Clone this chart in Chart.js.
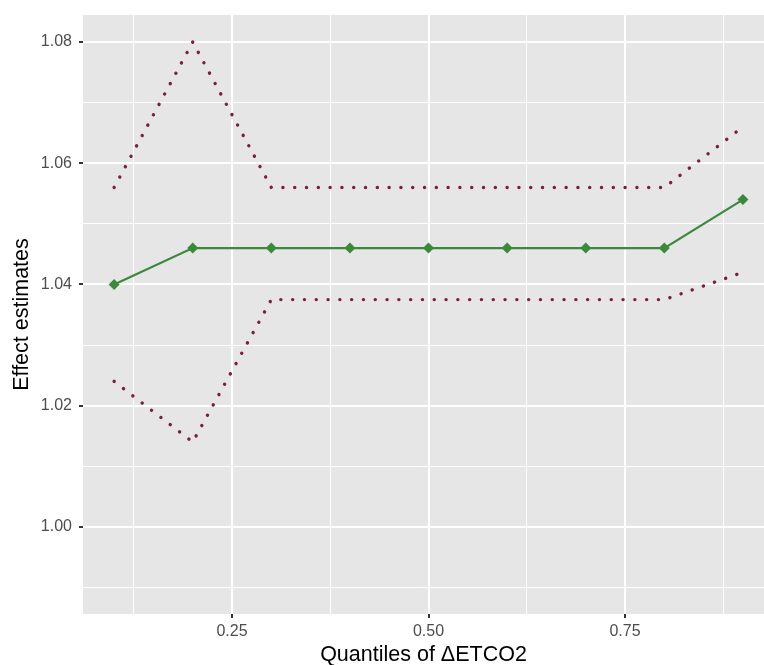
<!DOCTYPE html>
<html>
<head>
<meta charset="utf-8">
<script src="https://cdn.jsdelivr.net/npm/chart.js@4.4.0/dist/chart.umd.min.js"></script>
<style>
  html, body { margin: 0; padding: 0; background: #fff; overflow: hidden; }
  #wrap { width: 764px; height: 665px; }
</style>
</head>
<body>
<div id="wrap"><canvas id="chart" width="764" height="665"></canvas></div>
<script>
const quantiles = [0.1, 0.2, 0.3, 0.4, 0.5, 0.6, 0.7, 0.8, 0.9];
const estimate = [1.040, 1.046, 1.046, 1.046, 1.046, 1.046, 1.046, 1.046, 1.054];
const upper = [1.056, 1.080, 1.056, 1.056, 1.056, 1.056, 1.056, 1.056, 1.066];
const lower = [1.024, 1.014, 1.0375, 1.0375, 1.0375, 1.0375, 1.0375, 1.0375, 1.042];

const xTicks = [0.125, 0.25, 0.375, 0.5, 0.625, 0.75, 0.875];
const xLabels = { 0.25: '0.25', 0.5: '0.50', 0.75: '0.75' };
const yTicks = [0.99, 1.00, 1.01, 1.02, 1.03, 1.04, 1.05, 1.06, 1.07, 1.08];
const yLabels = { '1.00': '1.00', '1.02': '1.02', '1.04': '1.04', '1.06': '1.06', '1.08': '1.08' };

function pts(ys) {
	return quantiles.map((q, i) => ({ x: q, y: ys[i] }));
}
function xMajor(v) { return xLabels[v] !== undefined; }
function yMajor(v) { return yLabels[v.toFixed(2)] !== undefined; }

// grey ggplot-like panel behind the plot area
const panelBg = {
	id: 'panelBg',
	beforeDraw(chart) {
		const a = chart.chartArea;
		const c = chart.ctx;
		c.save();
		c.fillStyle = '#e6e6e6';
		c.fillRect(a.left, a.top, a.right - a.left, a.bottom - a.top);
		c.restore();
	},
};

const dotted = {
	borderColor: '#7d2037',
	borderWidth: 3.4,
	borderDash: [0.1, 11.7],
	borderCapStyle: 'round',
	pointRadius: 0,
	fill: false,
	tension: 0,
};

new Chart(document.getElementById('chart').getContext('2d'), {
	type: 'line',
	data: {
		datasets: [
			Object.assign({ label: 'upper', data: pts(upper) }, dotted),
			Object.assign({ label: 'lower', data: pts(lower) }, dotted),
			{
				label: 'estimate',
				data: pts(estimate),
				borderColor: '#3a8a3a',
				backgroundColor: '#3a8a3a',
				borderWidth: 2.2,
				pointStyle: 'rectRot',
				pointRadius: 5.5,
				pointBorderWidth: 0,
				tension: 0,
			},
		],
	},
	options: {
		responsive: false,
		animation: false,
		layout: { autoPadding: false, padding: { top: 15, right: 0, left: 0, bottom: 0 } },
		plugins: { legend: { display: false }, tooltip: { enabled: false } },
		scales: {
			x: {
				type: 'linear',
				min: 0.0604,
				max: 0.9268,
				afterBuildTicks: (s) => { s.ticks = xTicks.map((v) => ({ value: v })); },
				afterFit: (s) => { s.height = 51; s.paddingRight = 0; s.paddingLeft = 0; },
				border: { display: false },
				grid: {
					color: '#ffffff',
					lineWidth: (c) => (xMajor(c.tick.value) ? 2 : 1),
					tickColor: (c) => (xMajor(c.tick.value) ? '#333333' : 'rgba(0,0,0,0)'),
					tickWidth: 2,
					tickLength: 4,
				},
				ticks: {
					autoSkip: false,
					maxRotation: 0,
					padding: 4,
					color: '#4d4d4d',
					font: { family: 'Liberation Sans, Arial, sans-serif', size: 16 },
					callback: (v) => xLabels[v] || '',
				},
				title: {
					display: true,
					text: 'Quantiles of \u0394ETCO2',
					color: '#000',
					font: { family: 'Liberation Sans, Arial, sans-serif', size: 21.5 },
					padding: { top: 0, bottom: -3 },
				},
			},
			y: {
				type: 'linear',
				min: 0.98562,
				max: 1.08446,
				afterBuildTicks: (s) => { s.ticks = yTicks.map((v) => ({ value: v })); },
				afterFit: (s) => { s.width = 83; s.paddingTop = 0; s.paddingBottom = 0; },
				border: { display: false },
				grid: {
					color: '#ffffff',
					lineWidth: (c) => (yMajor(c.tick.value) ? 2 : 1),
					tickColor: (c) => (yMajor(c.tick.value) ? '#333333' : 'rgba(0,0,0,0)'),
					tickWidth: 2,
					tickLength: 4,
				},
				ticks: {
					autoSkip: false,
					padding: 7,
					color: '#4d4d4d',
					font: { family: 'Liberation Sans, Arial, sans-serif', size: 16 },
					callback: (v) => yLabels[Number(v).toFixed(2)] || '',
				},
				title: {
					display: true,
					text: 'Effect estimates',
					color: '#000',
					font: { family: 'Liberation Sans, Arial, sans-serif', size: 21.5 },
					padding: { top: 9, bottom: 0 },
				},
			},
		},
	},
	plugins: [panelBg],
});
</script>
</body>
</html>
